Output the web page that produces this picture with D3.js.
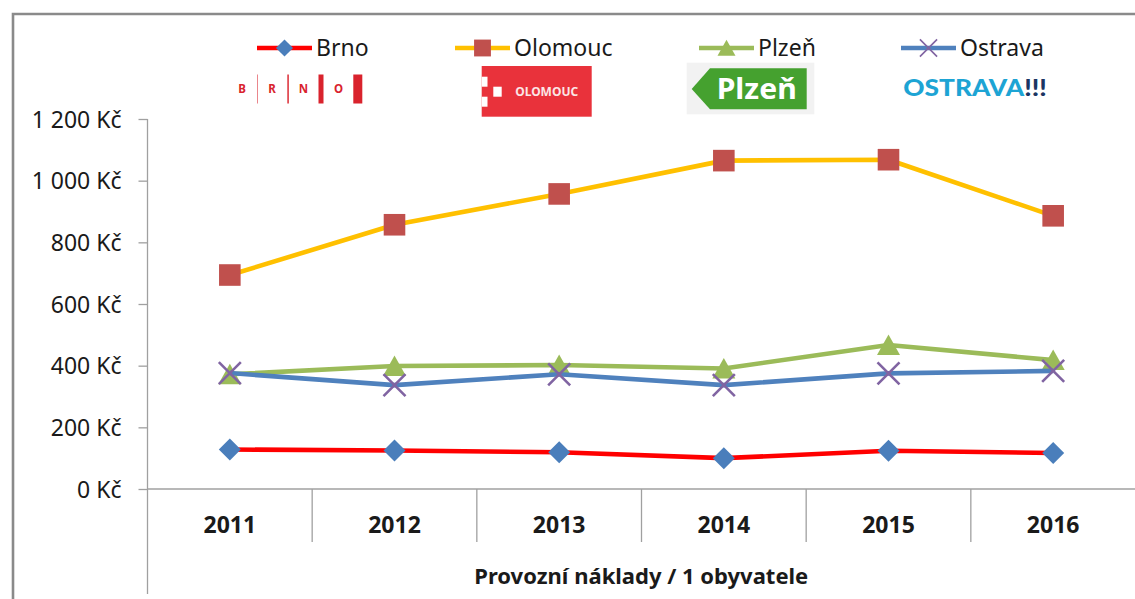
<!DOCTYPE html>
<html><head><meta charset="utf-8">
<script src="https://cdn.jsdelivr.net/npm/d3@7"></script>
<style>
html,body{margin:0;padding:0;background:#fff;}
svg{display:block;font-family:"Noto Sans",sans-serif;}
</style></head>
<body>
<svg id="chart" width="1135" height="599"></svg>
<script>
// ---- data ----
const years = ["2011","2012","2013","2014","2015","2016"];
const brno = [128,125,119,100,124,117];
const olomouc = [694,857,957,1065,1068,886];
const plzen = [372,399,402,391,467,418];
const ostrava = [376,337,372,337,375,383];
const yTicks = [0,200,400,600,800,1000,1200];
const seriesNames = ["Brno","Olomouc","Plzeň","Ostrava"];
const axisTitle = "Provozní náklady / 1 obyvatele";

const svg = d3.select("#chart");

// frame
svg.append("path").attr("d","M13,602V14H1138").attr("fill","none")
  .attr("stroke","#8a8a8a").attr("stroke-width",2.6);

const x = d3.scaleBand().domain(years).range([147.5,1135.5]).paddingInner(0).paddingOuter(0);
const y = d3.scaleLinear().domain([0,1200]).range([489,119]);
const cx = d => x(d) + x.bandwidth()/2;

const fmt = v => d3.format(",")(v).replace(/,/g," ") + " Kč";

// y axis
const yAxis = svg.append("g").attr("transform","translate(147.5,0)")
  .call(d3.axisLeft(y).tickValues(yTicks).tickSize(9).tickPadding(17).tickFormat(fmt));
yAxis.select(".domain").remove();
yAxis.selectAll(".tick line").attr("stroke","#a0a0a0").attr("stroke-width",1.3);
yAxis.selectAll(".tick text").attr("font-size",23).attr("fill","#1a1a1a")
  .attr("font-family","Noto Sans").attr("dy","0.35em");
svg.append("line").attr("x1",147.5).attr("x2",147.5).attr("y1",119).attr("y2",594)
  .attr("stroke","#a0a0a0").attr("stroke-width",1.3);

// x axis
svg.append("line").attr("x1",147.5).attr("x2",1135).attr("y1",y(0)).attr("y2",y(0))
  .attr("stroke","#a0a0a0").attr("stroke-width",1.3);
svg.append("g").selectAll("line").data(years.slice(1)).join("line")
  .attr("x1",d=>x(d)).attr("x2",d=>x(d)).attr("y1",y(0)).attr("y2",542)
  .attr("stroke","#a0a0a0").attr("stroke-width",1.3);
svg.append("g").selectAll("text").data(years).join("text")
  .attr("x",cx).attr("y",525).attr("dy","0.35em").attr("text-anchor","middle")
  .attr("font-size",23).attr("font-weight","bold").attr("fill","#1a1a1a").text(d=>d);
svg.append("text").attr("x",(147.5+1135)/2).attr("y",576).attr("dy","0.35em")
  .attr("text-anchor","middle").attr("font-size",22).attr("font-weight","bold")
  .attr("fill","#1a1a1a").text(axisTitle);

// markers
const markerPath = {
  diamond: s => `M0,${-11*s}L${11*s},0L0,${11*s}L${-11*s},0Z`,
  square: s => `M${-10.8*s},${-10.8*s}h${21.6*s}v${21.6*s}h${-21.6*s}Z`,
  triangle: s => `M0,${-10.5*s}L${11.5*s},${10*s}L${-11.5*s},${10*s}Z`,
  x: s => `M${-11*s},${-11*s}L${11*s},${11*s}M${11*s},${-11*s}L${-11*s},${11*s}`
};
const series = [
  {name:seriesNames[0], values:brno, line:"#ff0000", marker:"diamond", mfill:"#4a7ebb", mstroke:"none"},
  {name:seriesNames[1], values:olomouc, line:"#ffc000", marker:"square", mfill:"#c0504d", mstroke:"none"},
  {name:seriesNames[2], values:plzen, line:"#9bbb59", marker:"triangle", mfill:"#9bbb59", mstroke:"none"},
  {name:seriesNames[3], values:ostrava, line:"#4f81bd", marker:"x", mfill:"none", mstroke:"#8064a2"}
];

const lineGen = d3.line().x(d=>cx(d.year)).y(d=>y(d.v));
series.forEach(s=>{
  const pts = years.map((yr,i)=>({year:yr, v:s.values[i]}));
  const g = svg.append("g");
  g.append("path").datum(pts).attr("d",lineGen).attr("fill","none")
    .attr("stroke",s.line).attr("stroke-width",4.6).attr("stroke-linejoin","round");
  g.selectAll("path.m").data(pts).join("path").attr("class","m")
    .attr("transform",d=>`translate(${cx(d.year)},${y(d.v)})`)
    .attr("d",markerPath[s.marker](1))
    .attr("fill",s.mfill).attr("stroke",s.mstroke).attr("stroke-width",2.6)
    .attr("stroke-linejoin","round");
});

// legend
const legendX = [257, 455, 699, 901];
const lg = svg.append("g");
series.forEach((s,i)=>{
  const x0 = legendX[i];
  lg.append("line").attr("x1",x0).attr("x2",x0+55).attr("y1",48).attr("y2",48)
    .attr("stroke",s.line).attr("stroke-width",4.6);
  lg.append("path").attr("transform",`translate(${x0+27.5},48)`)
    .attr("d",markerPath[s.marker](0.78)).attr("fill",s.mfill).attr("stroke",s.mstroke)
    .attr("stroke-width",1.6);
  lg.append("text").attr("x",x0+59).attr("y",48).attr("dy","0.35em")
    .attr("font-size",23).attr("fill","#1a1a1a").text(s.name);
});

// logos (decorative)
const logos = svg.append("g");
// BRNO
const brnoRed = "#d9232d";
[["B",242],["R",272],["N",303.5],["O",338.5]].forEach(([t,px])=>{
  logos.append("text").attr("x",px).attr("y",89).attr("dy","0.36em").attr("text-anchor","middle")
    .attr("font-size",11.5).attr("font-weight","bold").attr("fill",brnoRed).text(t);
});
[[257,1,0.55],[287.2,1.8,0.8],[318.5,5,1],[353.3,9,1]].forEach(([bx,bw,op])=>{
  logos.append("rect").attr("x",bx).attr("y",74.5).attr("width",bw).attr("height",29)
    .attr("fill",brnoRed).attr("opacity",op);
});
// OLOMOUC
logos.append("rect").attr("x",481.7).attr("y",66).attr("width",110).attr("height",50.7).attr("fill","#e9323b");
logos.append("rect").attr("x",481.7).attr("y",76.7).attr("width",5.8).attr("height",10).attr("fill","#fff");
logos.append("rect").attr("x",493.3).attr("y",86.7).attr("width",8.4).attr("height",10).attr("fill","#fff");
logos.append("rect").attr("x",481.7).attr("y",96.7).attr("width",5.8).attr("height",10).attr("fill","#fff");
logos.append("text").attr("x",546.7).attr("y",91).attr("dy","0.36em").attr("text-anchor","middle")
  .attr("font-size",13).attr("font-weight","bold").attr("fill","#fbe5e5")
  .attr("textLength",63).attr("lengthAdjust","spacingAndGlyphs").text("OLOMOUC");
// Plzeň
logos.append("rect").attr("x",686.7).attr("y",62.7).attr("width",127.6).attr("height",51.6).attr("fill","#f2f2f2");
logos.append("path").attr("d","M691.7,89L710,68.3H806.7V109.3H710Z").attr("fill","#45a12f");
logos.append("text").attr("x",716.7).attr("y",99.3).attr("font-size",28).attr("font-weight","bold")
  .attr("fill","#fff").attr("textLength",80).attr("lengthAdjust","spacingAndGlyphs").text("Plzeň");
// OSTRAVA!!!
const ot = logos.append("text").attr("x",903.3).attr("y",96).attr("font-size",22.5)
  .attr("font-weight",900).attr("font-family","Lato, 'Noto Sans', sans-serif")
  .attr("textLength",143.4).attr("lengthAdjust","spacingAndGlyphs");
ot.append("tspan").attr("fill","#1da4d4").text("OSTRAVA");
ot.append("tspan").attr("fill","#1b3563").text("!!!");
</script>
</body></html>
